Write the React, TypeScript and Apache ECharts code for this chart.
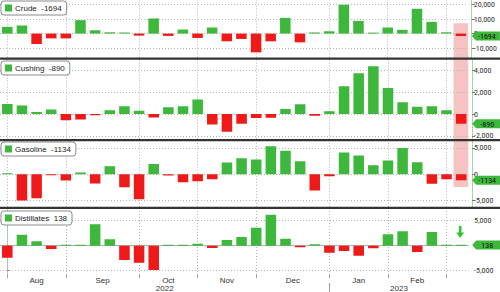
import React, { useEffect, useRef } from 'react';
import * as echarts from 'echarts';

const weeks = [
  '2022-07-22', '2022-07-29', '2022-08-05', '2022-08-12', '2022-08-19', '2022-08-26',
  '2022-09-02', '2022-09-09', '2022-09-16', '2022-09-23', '2022-09-30',
  '2022-10-07', '2022-10-14', '2022-10-21', '2022-10-28',
  '2022-11-04', '2022-11-11', '2022-11-18', '2022-11-25',
  '2022-12-02', '2022-12-09', '2022-12-16', '2022-12-23', '2022-12-30',
  '2023-01-06', '2023-01-13', '2023-01-20', '2023-01-27',
  '2023-02-03', '2023-02-10', '2023-02-17', '2023-02-24',
];

const crude = [4650, 5600, -7200, -3300, -3300, 9300, 2300, 900, 250, -1400, 10500, -1600, 2800, -3000, 4200, -5350,
  -3700, -13000, -5350, 10900, -6050, 800, 1600, 20000, 8800, 500, 4200, 2600, 17200, 8100, 900, -1694];
const cushing = [930, 780, 190, 430, -560, -500, -120, 340, 710, 310, -310, 620, 710, 1330, -960, -1640,
  -900, -370, -340, 470, 900, -160, 250, 2570, 3750, 4400, 2390, 1090, 680, 710, 340, -890];
const gasoline = [80, -4970, -4530, -80, -1200, 310, -1760, 1510, -2450, -4720, 1950, -250, -1510, -1320, -940, 2200,
  3020, 2770, 5280, 4460, 2450, -3080, -380, 4090, 3520, 1700, 2580, 4970, 2260, -1820, -940, -1134];
const distillates = [-2400, 2200, 870, -670, 50, 50, 4270, 1270, -2870, -3400, -4870, 60, 200, 400, -470, 1130,
  1730, 3600, 6200, 1400, -330, 270, -1400, -1070, -2000, -530, 2270, 2870, -1270, 2730, 100, 138];

const seriesNames = ['Crude', 'Cushing', 'Gasoline', 'Distillates'];
const seriesValues = [crude, cushing, gasoline, distillates];

const yTickValues = [
  [-10000, 0, 10000, 20000],
  [-2000, 0, 2000, 4000],
  [-5000, 0, 5000],
  [-5000, 0, 5000],
];

const monthLabels = ['Aug', 'Sep', 'Oct', 'Nov', 'Dec', 'Jan', 'Feb'];
const monthBoundaryIdx = [0, 4, 9, 13, 17, 22, 26, 30];
const yearLabels = ['2022', '2023'];
const yearBoundaryIdx = [-0.5, 22, 31.5];

// highlight band of latest week: top in Crude units, bottom in Gasoline units
const highlightTopCrude = 7200;
const highlightBottomGasoline = -2400;

const GREEN = '#3db83d';
const RED = '#ee1a1a';
const FONT = 'Liberation Sans';
const NARROW = '"Liberation Sans Narrow", "Arial Narrow", "Roboto Condensed", "Liberation Sans"';

// layout
const gridLeft = 0;
const gridWidth = 468.5;
const gridBoxes = [
  { top: 0, height: 57.5 },
  { top: 59.8, height: 78.8 },
  { top: 141, height: 65.8 },
  { top: 209, height: 66 },
];
const yRanges = [
  [-16573, 23287],
  [-2260, 4995],
  [-6170, 6283],
  [-5860, 7340],
];
const legendTops = [1, 61, 142, 211];
const separatorYs = [57.6, 139, 206.8];

export default function App() {
  const ref = useRef<HTMLDivElement>(null);

  useEffect(() => {
    document.body.style.margin = '0';
    if (!ref.current) return;
    const chart = echarts.init(ref.current, null, { renderer: 'svg' });

    const monthMid = monthLabels.map((_, i) => (monthBoundaryIdx[i] + monthBoundaryIdx[i + 1]) / 2);
    const yearMid = yearLabels.map((_, i) => (yearBoundaryIdx[i] + yearBoundaryIdx[i + 1]) / 2);

    const grids = gridBoxes.map((g) => ({ left: gridLeft, width: gridWidth, top: g.top, height: g.height }));

    const xAxes: any[] = gridBoxes.map((_, k) => ({
      type: 'category',
      gridIndex: k,
      data: weeks,
      show: k === 3,
      axisLine: { show: true, lineStyle: { color: '#aaa', width: 1 } },
      axisTick: { show: false },
      axisLabel: { show: false },
      splitLine: { show: false },
    }));
    xAxes.push({
      type: 'value',
      gridIndex: 3,
      min: -0.5,
      max: 31.5,
      position: 'bottom',
      axisLine: { show: false },
      axisTick: { show: true, customValues: monthBoundaryIdx, length: 3, lineStyle: { color: '#999' } },
      axisLabel: {
        show: true,
        customValues: monthMid,
        formatter: (v: number) => {
          const i = monthMid.findIndex((m) => Math.abs(m - v) < 0.01);
          return i >= 0 ? monthLabels[i] : '';
        },
        fontSize: 8,
        color: '#333',
        margin: 1,
        fontFamily: FONT,
      },
      splitLine: { show: false },
    });
    xAxes.push({
      type: 'value',
      gridIndex: 3,
      min: -0.5,
      max: 31.5,
      position: 'bottom',
      offset: 8,
      axisLine: { show: false },
      axisTick: { show: true, customValues: [yearBoundaryIdx[1]], length: 10, lineStyle: { color: '#999' } },
      axisLabel: {
        show: true,
        customValues: yearMid,
        formatter: (v: number) => {
          const i = yearMid.findIndex((m) => Math.abs(m - v) < 0.01);
          return i >= 0 ? yearLabels[i] : '';
        },
        fontSize: 8,
        color: '#333',
        margin: 1,
        fontFamily: FONT,
      },
      splitLine: { show: false },
    });

    const yAxes = gridBoxes.map((_, k) => ({
      type: 'value',
      gridIndex: k,
      position: 'right',
      offset: 3.5,
      min: yRanges[k][0],
      max: yRanges[k][1],
      axisLine: { show: true, lineStyle: { color: '#a6d6a6', width: 1 } },
      axisTick: { show: true, customValues: yTickValues[k], length: 3, lineStyle: { color: '#777' } },
      axisLabel: {
        show: true,
        customValues: yTickValues[k],
        fontSize: 8,
        color: '#333',
        margin: 2,
        fontFamily: NARROW,
      },
      splitLine: { show: false },
    }));

    const series = seriesNames.map((name, k) => {
      const vals = seriesValues[k];
      const last = vals[vals.length - 1];
      const markPointData: any[] = [
        {
          coord: [weeks[weeks.length - 1], last],
          symbol: 'path://M0,4.5 L4,0 L28,0 L28,9 L4,9 Z',
          symbolSize: [28, 9],
          symbolKeepAspect: false,
          symbolOffset: [25, 0],
          itemStyle: { color: GREEN },
          label: {
            show: true,
            position: 'inside',
            formatter: String(last),
            color: '#111',
            fontSize: 8,
            fontFamily: NARROW,
            offset: [1, 0.5],
          },
        },
      ];
      if (k === 3) {
        markPointData.push({
          coord: [weeks[weeks.length - 1], last],
          symbol: 'path://M3,0 L6,0 L6,6 L9,6 L4.5,11 L0,6 L3,6 Z',
          symbolSize: [8, 12],
          symbolKeepAspect: false,
          symbolOffset: [-1, -13],
          itemStyle: { color: '#35c435' },
          label: { show: false },
        });
      }
      return {
        name,
        type: 'bar',
        xAxisIndex: k,
        yAxisIndex: k,
        barWidth: '72%',
        barMinHeight: 1,
        clip: false,
        z: 2,
        itemStyle: { color: GREEN },
        data: vals.map((v) => ({ value: v, itemStyle: { color: v >= 0 ? GREEN : RED } })),
        markLine: {
          silent: true,
          symbol: 'none',
          z: 1,
          label: { show: false },
          lineStyle: { type: [1, 2], color: '#b5b5b5', width: 1 },
          data: [
            ...yTickValues[k].map((v) => ({ yAxis: v })),
            ...monthBoundaryIdx.map((i) => ({ xAxis: weeks[i] })),
          ],
        },
        markPoint: {
          silent: true,
          z: 6,
          data: markPointData,
        },
      };
    });

    const legends = seriesNames.map((name, k) => {
      const vals = seriesValues[k];
      const last = vals[vals.length - 1];
      return {
        data: [{ name, itemStyle: { color: GREEN } }],
        left: 1,
        top: legendTops[k],
        icon: 'rect',
        itemWidth: 7,
        itemHeight: 7,
        itemGap: 0,
        selectedMode: false,
        padding: [3, 5, 3, 4],
        backgroundColor: '#fff',
        borderColor: '#8a8a8a',
        borderWidth: 1,
        borderRadius: 3,
        textStyle: { fontSize: 8, color: '#222', fontFamily: FONT, padding: [0, 0, 0, -2] },
        formatter: (n: string) => `${n}  ${last}`,
        z: 10,
      };
    });

    const separators = separatorYs.map((y) => ({
      type: 'rect',
      shape: { x: 0, y, width: 500, height: 2.2 },
      style: { fill: '#333' },
      z: 50,
      silent: true,
    }));

    chart.setOption({
      animation: false,
      backgroundColor: '#fff',
      textStyle: { fontFamily: FONT },
      grid: grids,
      xAxis: xAxes,
      yAxis: yAxes,
      legend: legends,
      series,
      graphic: separators,
    });

    // highlight band for the latest week, positioned from the axes
    const bw = gridWidth / weeks.length;
    const cx = chart.convertToPixel({ xAxisIndex: 0 }, weeks[weeks.length - 1]) as number;
    const yTop = chart.convertToPixel({ yAxisIndex: 0 }, highlightTopCrude) as number;
    const yBot = chart.convertToPixel({ yAxisIndex: 2 }, highlightBottomGasoline) as number;
    chart.setOption({
      graphic: [
        ...separators,
        {
          type: 'rect',
          shape: { x: cx - bw / 2, y: yTop, width: bw, height: yBot - yTop },
          style: { fill: '#f6c3c3' },
          z: 0,
          silent: true,
        },
      ],
    });

    return () => chart.dispose();
  }, []);

  return <div ref={ref} style={{ width: 500, height: 292 }} />;
}
